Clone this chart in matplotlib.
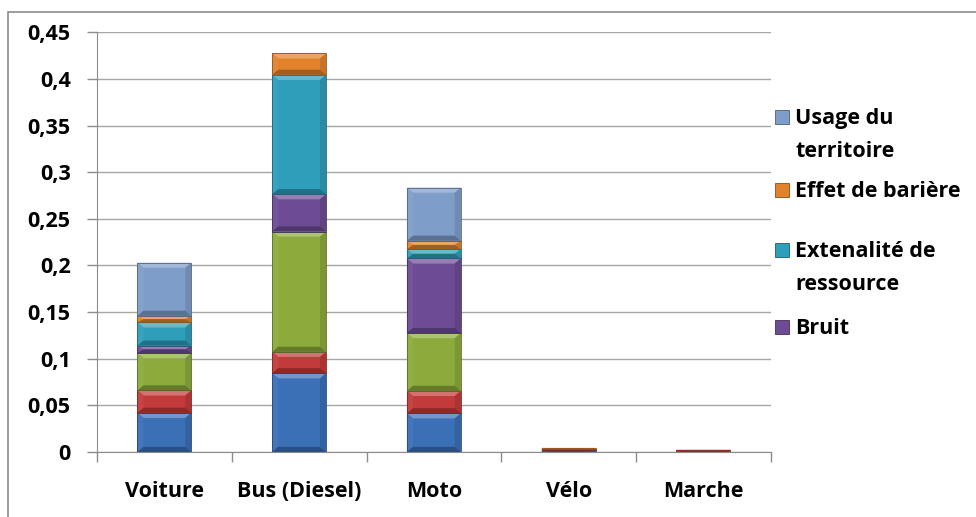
import numpy as np
import matplotlib
matplotlib.use("Agg")
import matplotlib.pyplot as plt
from matplotlib.patches import Polygon, Rectangle
from matplotlib.colors import to_rgb

plt.rcParams['font.family'] = ['Open Sans', 'DejaVu Sans']
plt.rcParams['font.weight'] = 'bold'

categories = ["Voiture", "Bus (Diesel)", "Moto", "Vélo", "Marche"]

# series, bottom to top
accidents = [0.042, 0.0844, 0.0415, 0.002, 0.0]
pollution = [0.024, 0.023, 0.024, 0.001, 0.0025]
climat = [0.040, 0.129, 0.062, 0.0, 0.0]
bruit = [0.008, 0.040, 0.080, 0.0, 0.0]
ressource = [0.025, 0.128, 0.010, 0.0, 0.0]
bariere = [0.007, 0.023, 0.009, 0.0015, 0.0]
territoire = [0.057, 0.0, 0.057, 0.0, 0.0]

series = [accidents, pollution, climat, bruit, ressource, bariere, territoire]
names = ["Accidents", "Pollution de l'air", "Climat", "Bruit",
         "Extenalité de\nressource", "Effet de barière", "Usage du\nterritoire"]
colors = ["#3b6fb6", "#c23b3a", "#8cab3c", "#6d4c95", "#2f9ebb", "#e2822b", "#7f9dc9"]

legend_names = ["Usage du\nterritoire", "Effet de barière", "Extenalité de\nressource", "Bruit"]
legend_colors = ["#7f9dc9", "#e2822b", "#2f9ebb", "#6d4c95"]


def mix(c, other, t):
    c = np.array(to_rgb(c))
    return tuple(c * (1 - t) + np.array(other) * t)


def bevel_bar(ax, x, b, h, w, color):
    if h <= 0:
        return
    x0, x1 = x - w / 2, x + w / 2
    y0, y1 = b, b + h
    bx = 0.045
    by = min(0.0055, h / 2)
    ax.add_patch(Rectangle((x0, y0), w, h, facecolor=color, edgecolor='none', zorder=3))
    top = [(x0, y1), (x1, y1), (x1 - bx, y1 - by), (x0 + bx, y1 - by)]
    bot = [(x0, y0), (x1, y0), (x1 - bx, y0 + by), (x0 + bx, y0 + by)]
    left = [(x0, y0), (x0, y1), (x0 + bx, y1 - by), (x0 + bx, y0 + by)]
    right = [(x1, y0), (x1, y1), (x1 - bx, y1 - by), (x1 - bx, y0 + by)]
    ax.add_patch(Polygon(top, facecolor=mix(color, (1, 1, 1), 0.28), edgecolor='none', zorder=4))
    ax.add_patch(Polygon(left, facecolor=mix(color, (1, 1, 1), 0.05), edgecolor='none', zorder=4))
    ax.add_patch(Polygon(right, facecolor=mix(color, (0, 0, 0), 0.12), edgecolor='none', zorder=4))
    ax.add_patch(Polygon(bot, facecolor=mix(color, (0, 0, 0), 0.28), edgecolor='none', zorder=4))
    ax.add_patch(Rectangle((x0, y0), w, h, facecolor='none',
                           edgecolor=mix(color, (0, 0, 0), 0.35), lw=0.6, zorder=5))


fig = plt.figure(figsize=(9.76, 5.17), dpi=100)
ax = fig.add_axes([0.0994, 0.1257, 0.6903, 0.8118])

xs = np.arange(len(categories))
bottom = np.zeros(len(categories))
for vals, col in zip(series, colors):
    vals = np.array(vals)
    for i in range(len(categories)):
        bevel_bar(ax, xs[i], bottom[i], vals[i], 0.4, col)
    bottom += vals

ax.set_xlim(-0.5, len(categories) - 0.5)
ax.set_ylim(0, 0.45)
ax.set_yticks(np.arange(0, 0.451, 0.05))
ax.set_yticklabels(["0" if v == 0 else f"{v:.2f}".rstrip("0").replace(".", ",")
                    for v in np.arange(0, 0.451, 0.05)])
ax.yaxis.grid(True, color="#a6a6a6", lw=1.0)
ax.set_axisbelow(True)
ax.set_xticks(xs)
ax.set_xticklabels(categories)
ax.set_xticks(np.arange(-0.5, len(categories)), minor=True)
ax.tick_params(axis='x', which='major', length=0, pad=21, labelsize=15.5)
ax.tick_params(axis='x', which='minor', length=7, color="#8c8c8c", width=1)
ax.tick_params(axis='y', length=7, color="#8c8c8c", width=1, pad=12, labelsize=15.5)
for s in ["top", "right"]:
    ax.spines[s].set_visible(False)
for s in ["left", "bottom"]:
    ax.spines[s].set_color("#8c8c8c")

# legend, drawn by hand to follow the original spacing
leg_y = [117, 190, 250, 327]
for name, col, yp in zip(legend_names, legend_colors, leg_y):
    yf = 1 - yp / 517
    fig.patches.append(Rectangle((775 / 976, yf - 7 / 517), 14 / 976, 14 / 517,
                                 facecolor=col, edgecolor=mix(col, (0, 0, 0), 0.4), lw=0.6,
                                 transform=fig.transFigure, figure=fig))
    fig.text(795 / 976, yf + 9 / 517, name, ha='left', va='top', fontsize=15.5,
             linespacing=1.78)

# outer chart border
fig.patches.append(Rectangle((8 / 976, -0.1), 1.2, 1 - 12 / 517 + 0.1, facecolor='none',
                             edgecolor="#8c8c8c", lw=1.2, transform=fig.transFigure, figure=fig))

fig.savefig("out.png", dpi=100)
